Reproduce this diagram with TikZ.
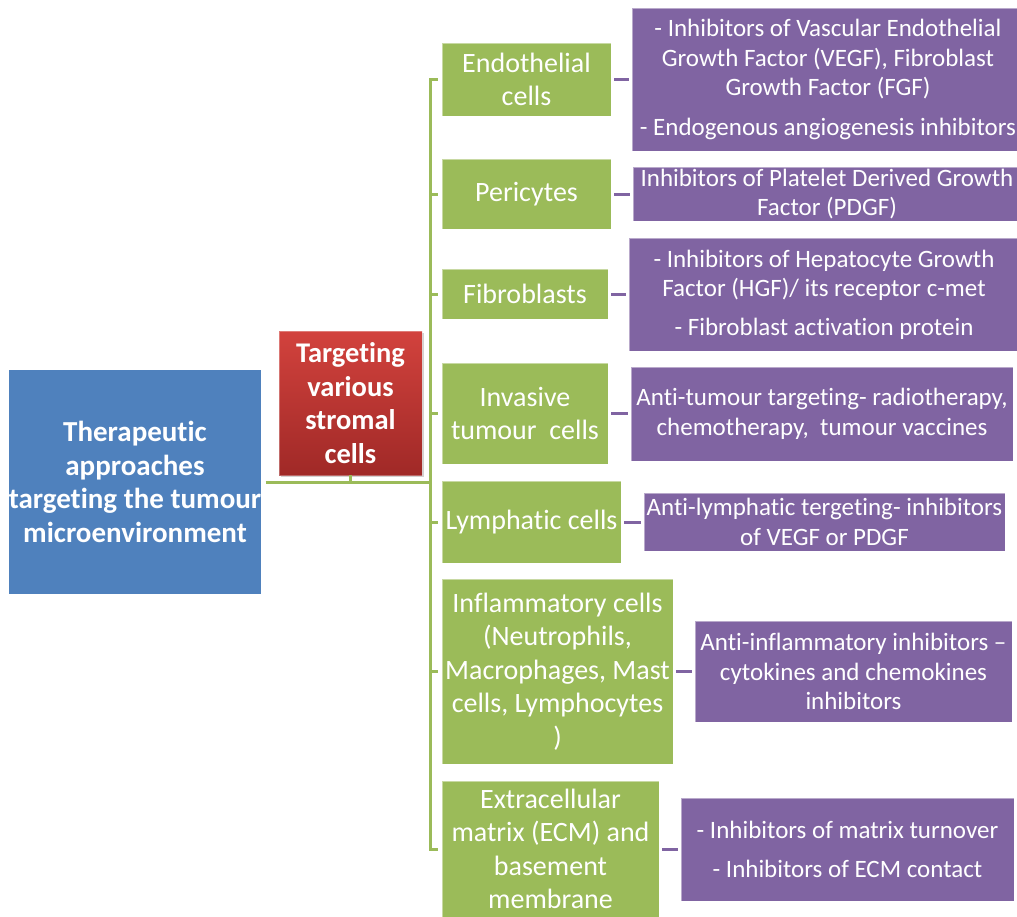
\documentclass[tikz,border=0pt]{standalone}
\usepackage{fontspec}
\setmainfont{Carlito}[Ligatures={NoCommon}]
\usetikzlibrary{shadows}
\definecolor{gfill}{RGB}{155,187,89}
\definecolor{pfill}{RGB}{128,100,162}
\definecolor{bfill}{RGB}{79,129,189}
\definecolor{rtop}{RGB}{210,66,61}
\definecolor{rbot}{RGB}{160,41,39}
\tikzset{
  box/.style={rectangle, inner sep=0pt, align=center, text=white, draw=white, draw opacity=0.45, line width=0.8pt},
  gbox/.style={box, fill=gfill, font=\fontsize{28}{33.5}\selectfont},
  pbox/.style={box, fill=pfill, font=\fontsize{25}{29.5}\selectfont},
  gline/.style={draw=gfill, line width=3pt},
  pline/.style={draw=pfill, line width=3pt},
}
\begin{document}
\begin{tikzpicture}[x=1pt,y=-1pt]
\useasboundingbox[fill=white] (0,0) rectangle (1017,916);
% main nodes
\node[box, fill=bfill, draw opacity=0, minimum width=250pt, minimum height=224pt,
      font=\bfseries\fontsize{29}{33.5}\selectfont] (blue) at (135,482)
  {Therapeutic\\approaches\\targeting the tumour\\microenvironment};
\node[box, top color=rtop, bottom color=rbot, draw opacity=0.3,
      drop shadow={shadow xshift=2pt, shadow yshift=-2pt, opacity=0.35},
      minimum width=143pt, minimum height=144pt,
      font=\bfseries\fontsize{28.5}{33.7}\selectfont] (red) at (350.5,403)
  {Targeting\\various\\stromal\\cells};
% green nodes
\node[gbox, minimum width=169pt, minimum height=73pt] (endo) at (526.5,79.5) {Endothelial\\cells};
\node[gbox, minimum width=169pt, minimum height=70pt] (peri) at (526.5,194) {Pericytes};
\node[gbox, minimum width=166pt, minimum height=50pt] (fibro) at (525,294) {Fibroblasts};
\node[gbox, minimum width=166pt, minimum height=101pt] (inv) at (525,413.5) {Invasive\\tumour\ \ cells};
\node[gbox, minimum width=179pt, minimum height=82pt] (lymph) at (531.5,522) {Lymphatic cells};
\node[gbox, minimum width=231pt, minimum height=185pt] (infl) at (557.5,671.5)
  {Inflammatory cells\\(Neutrophils,\\Macrophages, Mast\\cells, Lymphocytes\\)};
\node[gbox, minimum width=217pt, minimum height=136pt] (ecm) at (550.5,849)
  {Extracellular\\matrix (ECM) and\\basement\\membrane};
% purple nodes
\node[pbox, minimum width=392pt, minimum height=143pt] (v1) at (828,79.5)
  {- Inhibitors of Vascular Endothelial\\Growth Factor (VEGF), Fibroblast\\Growth Factor (FGF)\\[10pt]- Endogenous angiogenesis inhibitors};
\node[pbox, minimum width=388pt, minimum height=54pt] (v2) at (827,194)
  {Inhibitors of Platelet Derived Growth\\Factor (PDGF)};
\node[pbox, minimum width=390pt, minimum height=113pt] (v3) at (824,294.5)
  {- Inhibitors of Hepatocyte Growth\\Factor (HGF)/ its receptor c-met\\[9pt]- Fibroblast activation protein};
\node[pbox, minimum width=382pt, minimum height=94pt] (v4) at (822,414)
  {Anti-tumour targeting- radiotherapy,\\chemotherapy,\ \ tumour vaccines};
\node[pbox, minimum width=361pt, minimum height=58pt] (v5) at (824.5,522)
  {Anti-lymphatic tergeting- inhibitors\\of VEGF or PDGF};
\node[pbox, minimum width=317pt, minimum height=101pt] (v6) at (853.5,671.5)
  {Anti-inflammatory inhibitors –\\cytokines and chemokines\\inhibitors};
\node[pbox, minimum width=333pt, minimum height=103pt] (v7) at (847.5,849.5)
  {- Inhibitors of matrix turnover\\[10pt]- Inhibitors of ECM contact};
% green connectors
\coordinate (trunk) at (430,0);
\draw[gline] ([xshift=4pt]blue.east) -- (blue.east -| trunk);
\draw[gline] (red.south) -- (red.south |- blue.east);
\draw[gline] ([xshift=-4pt]endo.west) -- (endo.west -| trunk) -- (ecm.west -| trunk) -- ([xshift=-4pt]ecm.west);
\foreach \n in {peri,fibro,inv,lymph,infl}
  \draw[gline] (\n.west -| trunk) -- ([xshift=-4pt]\n.west);
% purple connectors
\foreach \a/\b in {endo/v1,peri/v2,fibro/v3,inv/v4,lymph/v5,infl/v6,ecm/v7}
  \draw[pline] ([xshift=3pt]\a.east) -- ([xshift=-3pt]\a.east -| \b.west);
\end{tikzpicture}
\end{document}
